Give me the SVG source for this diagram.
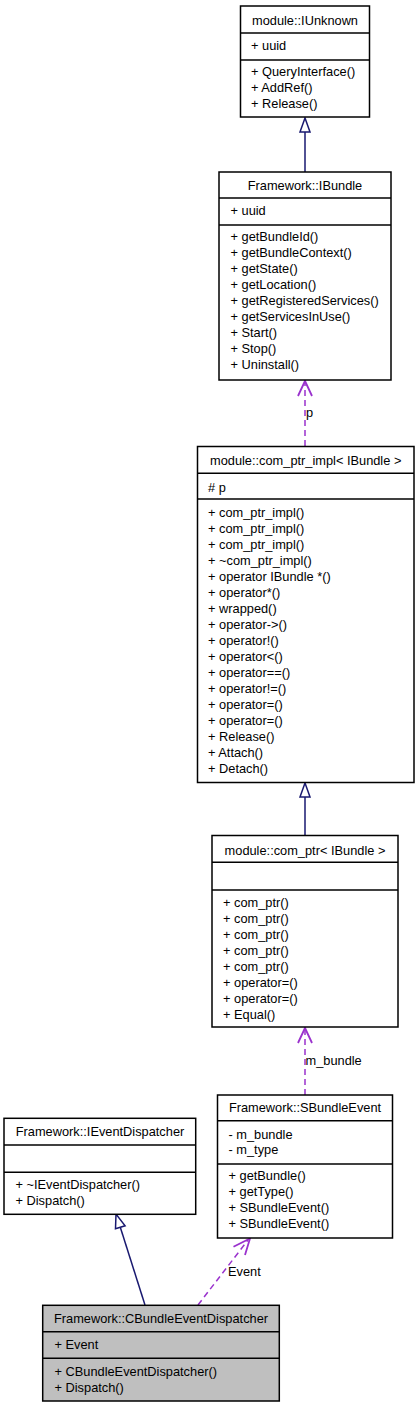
<svg xmlns="http://www.w3.org/2000/svg" width="419" height="1408" viewBox="0 0 419 1408">
<style>
.box{fill:#fff;stroke:#000;stroke-width:1.5}
.sel{fill:#bfbfbf;stroke:#000;stroke-width:1.5}
.sep{stroke:#000;stroke-width:1.5}
text{font-family:"Liberation Sans",Arial,sans-serif;font-size:12.8px;fill:#000}
.c{text-anchor:middle}
.inh{stroke:#191970;stroke-width:1.5;fill:none}
.tri{fill:#fff;stroke:#191970;stroke-width:1.5}
.use{stroke:#9a32cd;stroke-width:1.5;stroke-dasharray:6,4;fill:none}
.head{stroke:#9a32cd;stroke-width:1.8;fill:none}
</style>
<rect width="419" height="1408" fill="#fff"/>
<g id="connectors">
  <line class="inh" x1="305" y1="172" x2="305" y2="132"/>
  <polygon class="tri" points="305,118 300,132 310,132"/>
  <line class="use" x1="305" y1="446" x2="305" y2="383"/>
  <polyline class="head" points="298,396 305,381 312,396"/>
  <text x="306" y="417">p</text>
  <line class="inh" x1="305" y1="836" x2="305" y2="797"/>
  <polygon class="tri" points="305,783 300,797 310,797"/>
  <line class="use" x1="305" y1="1095" x2="305" y2="1030"/>
  <polyline class="head" points="298,1043 305,1028 312,1043"/>
  <text x="305.5" y="1065">m_bundle</text>
  <line class="inh" x1="145" y1="1305" x2="120.3" y2="1227.3"/>
  <polygon class="tri" points="116,1214 115.5,1228.8 125.1,1225.8"/>
  <line class="use" x1="198" y1="1305" x2="248" y2="1240"/>
  <polyline class="head" points="245,1255 250,1238.5 233.5,1246.7"/>
  <text x="228" y="1276">Event</text>
</g>
<g id="IUnknown">
  <rect class="box" x="240.5" y="6" width="129" height="111"/>
  <line class="sep" x1="240.5" y1="33" x2="369.5" y2="33"/>
  <line class="sep" x1="240.5" y1="60" x2="369.5" y2="60"/>
  <text class="c" x="305" y="25">module::IUnknown</text>
  <text x="251" y="50">+ uuid</text>
  <text x="251" y="76">+ QueryInterface()</text>
  <text x="251" y="92">+ AddRef()</text>
  <text x="251" y="108">+ Release()</text>
</g>
<g id="IBundle">
  <rect class="box" x="219" y="172" width="172" height="208"/>
  <line class="sep" x1="219" y1="198" x2="391" y2="198"/>
  <line class="sep" x1="219" y1="225" x2="391" y2="225"/>
  <text class="c" x="305" y="189.5">Framework::IBundle</text>
  <text x="230.5" y="215">+ uuid</text>
  <text x="230.5" y="241">+ getBundleId()</text>
  <text x="230.5" y="257">+ getBundleContext()</text>
  <text x="230.5" y="273">+ getState()</text>
  <text x="230.5" y="289">+ getLocation()</text>
  <text x="230.5" y="305">+ getRegisteredServices()</text>
  <text x="230.5" y="321">+ getServicesInUse()</text>
  <text x="230.5" y="337">+ Start()</text>
  <text x="230.5" y="353">+ Stop()</text>
  <text x="230.5" y="369">+ Uninstall()</text>
</g>
<g id="com_ptr_impl">
  <rect class="box" x="197.5" y="446.5" width="216.5" height="336"/>
  <line class="sep" x1="197.5" y1="473.3" x2="414" y2="473.3"/>
  <line class="sep" x1="197.5" y1="499" x2="414" y2="499"/>
  <text class="c" x="305.7" y="464.5">module::com_ptr_impl&lt; IBundle &gt;</text>
  <text x="208" y="491.5"># p</text>
  <text x="208" y="517">+ com_ptr_impl()</text>
  <text x="208" y="533">+ com_ptr_impl()</text>
  <text x="208" y="549">+ com_ptr_impl()</text>
  <text x="208" y="565">+ ~com_ptr_impl()</text>
  <text x="208" y="581">+ operator IBundle *()</text>
  <text x="208" y="597">+ operator*()</text>
  <text x="208" y="613">+ wrapped()</text>
  <text x="208" y="629">+ operator-&gt;()</text>
  <text x="208" y="645">+ operator!()</text>
  <text x="208" y="661">+ operator&lt;()</text>
  <text x="208" y="677">+ operator==()</text>
  <text x="208" y="693">+ operator!=()</text>
  <text x="208" y="709">+ operator=()</text>
  <text x="208" y="725">+ operator=()</text>
  <text x="208" y="741">+ Release()</text>
  <text x="208" y="757">+ Attach()</text>
  <text x="208" y="773">+ Detach()</text>
</g>
<g id="com_ptr">
  <rect class="box" x="212" y="835.5" width="186" height="191.5"/>
  <line class="sep" x1="212" y1="862.3" x2="398" y2="862.3"/>
  <line class="sep" x1="212" y1="890" x2="398" y2="890"/>
  <text class="c" x="305" y="855">module::com_ptr&lt; IBundle &gt;</text>
  <text x="223" y="906.5">+ com_ptr()</text>
  <text x="223" y="922.5">+ com_ptr()</text>
  <text x="223" y="938.5">+ com_ptr()</text>
  <text x="223" y="954.5">+ com_ptr()</text>
  <text x="223" y="970.5">+ com_ptr()</text>
  <text x="223" y="986.5">+ operator=()</text>
  <text x="223" y="1002.5">+ operator=()</text>
  <text x="223" y="1018.5">+ Equal()</text>
</g>
<g id="SBundleEvent">
  <rect class="box" x="217.5" y="1095" width="175" height="143"/>
  <line class="sep" x1="217.5" y1="1120.7" x2="392.5" y2="1120.7"/>
  <line class="sep" x1="217.5" y1="1164" x2="392.5" y2="1164"/>
  <text class="c" x="305" y="1111.5">Framework::SBundleEvent</text>
  <text x="228.5" y="1138.5">- m_bundle</text>
  <text x="228.5" y="1154">- m_type</text>
  <text x="228.5" y="1180">+ getBundle()</text>
  <text x="228.5" y="1196">+ getType()</text>
  <text x="228.5" y="1212">+ SBundleEvent()</text>
  <text x="228.5" y="1228">+ SBundleEvent()</text>
</g>
<g id="IEventDispatcher">
  <rect class="box" x="4" y="1118.3" width="191.7" height="96"/>
  <line class="sep" x1="4" y1="1145" x2="195.7" y2="1145"/>
  <line class="sep" x1="4" y1="1172.3" x2="195.7" y2="1172.3"/>
  <text class="c" x="100" y="1135.5">Framework::IEventDispatcher</text>
  <text x="15.5" y="1188.5">+ ~IEventDispatcher()</text>
  <text x="15.5" y="1205">+ Dispatch()</text>
</g>
<g id="CBundleEventDispatcher">
  <rect class="sel" x="42.7" y="1305.3" width="236.6" height="95.7"/>
  <line class="sep" x1="42.7" y1="1331.7" x2="279.3" y2="1331.7"/>
  <line class="sep" x1="42.7" y1="1358.3" x2="279.3" y2="1358.3"/>
  <text class="c" x="161" y="1322.5">Framework::CBundleEventDispatcher</text>
  <text x="54.5" y="1348.5">+ Event</text>
  <text x="54.5" y="1376">+ CBundleEventDispatcher()</text>
  <text x="54.5" y="1392">+ Dispatch()</text>
</g>
</svg>
